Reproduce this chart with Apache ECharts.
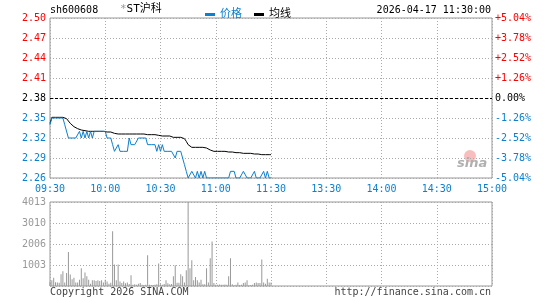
<!DOCTYPE html>
<html>
<head>
<meta charset="utf-8">
<script src="https://cdn.jsdelivr.net/npm/echarts@6/dist/echarts.min.js"></script>
<style>
  html, body { margin: 0; padding: 0; background: #fff; }
  #chart { width: 545px; height: 300px; }
</style>
</head>
<body>
<div id="chart"></div>
<script>
// 基本信息
var code = 'sh600608';
var stockName = 'ST沪科';
var timeStamp = '2026-04-17 11:30:00';
var prevClose = 2.38;

// 横轴刻度
var times = ['09:30', '10:00', '10:30', '11:00', '11:30', '13:30', '14:00', '14:30', '15:00'];
// 成交量纵轴刻度
var volTicks = ['', '1003', '2006', '3010', '4013'];

// 每分钟价格 (09:30 - 11:30)
var price = [
  2.34, 2.35, 2.35, 2.35, 2.35, 2.35, 2.35, 2.35, 2.34, 2.34,
  2.32, 2.32, 2.32, 2.32, 2.32, 2.32, 2.33, 2.32, 2.33, 2.32,
  2.33, 2.32, 2.33, 2.32, 2.33, 2.33, 2.33, 2.33, 2.33, 2.33,
  2.33, 2.32, 2.32, 2.32, 2.31, 2.30, 2.30, 2.31, 2.30, 2.30,
  2.30, 2.30, 2.30, 2.32, 2.31, 2.31, 2.31, 2.31, 2.32, 2.32,
  2.32, 2.32, 2.32, 2.31, 2.31, 2.31, 2.31, 2.31, 2.30, 2.31,
  2.30, 2.31, 2.30, 2.30, 2.30, 2.30, 2.30, 2.30, 2.29, 2.30,
  2.30, 2.30, 2.30, 2.28, 2.27, 2.26, 2.26, 2.27, 2.27, 2.26,
  2.27, 2.26, 2.27, 2.26, 2.27, 2.26, 2.26, 2.26, 2.26, 2.26,
  2.26, 2.26, 2.26, 2.26, 2.26, 2.26, 2.26, 2.26, 2.27, 2.27,
  2.27, 2.26, 2.26, 2.26, 2.26, 2.27, 2.27, 2.26, 2.26, 2.26,
  2.26, 2.27, 2.26, 2.26, 2.26, 2.26, 2.27, 2.26, 2.27, 2.26,
  2.26
];

// 均价
var avgPrice = [
  2.342, 2.351, 2.351, 2.351, 2.351, 2.351, 2.351, 2.351, 2.351, 2.349,
  2.346, 2.342, 2.339, 2.337, 2.335, 2.334, 2.333, 2.332, 2.331, 2.331,
  2.330, 2.330, 2.330, 2.330, 2.330, 2.330, 2.330, 2.330, 2.330, 2.330,
  2.329, 2.329, 2.329, 2.329, 2.328, 2.327, 2.326, 2.326, 2.326, 2.326,
  2.326, 2.326, 2.326, 2.326, 2.326, 2.326, 2.326, 2.326, 2.326, 2.326,
  2.326, 2.326, 2.326, 2.325, 2.325, 2.325, 2.325, 2.325, 2.324, 2.324,
  2.324, 2.323, 2.323, 2.323, 2.323, 2.323, 2.323, 2.321, 2.321, 2.321,
  2.321, 2.321, 2.321, 2.319, 2.315, 2.310, 2.308, 2.306, 2.306, 2.306,
  2.306, 2.306, 2.306, 2.306, 2.306, 2.305, 2.304, 2.302, 2.300, 2.300,
  2.300, 2.300, 2.300, 2.300, 2.300, 2.300, 2.299, 2.299, 2.299, 2.299,
  2.298, 2.298, 2.298, 2.298, 2.298, 2.297, 2.297, 2.297, 2.297, 2.297,
  2.297, 2.296, 2.296, 2.296, 2.296, 2.295, 2.295, 2.295, 2.295, 2.295,
  2.295
];

// 成交量
var volume = [
  200, 270, 400, 180, 170, 150, 560, 700, 170, 620,
  1630, 550, 320, 400, 170, 170, 300, 850, 370, 650,
  460, 300, 110, 270, 270, 240, 270, 240, 270, 170,
  300, 210, 110, 150, 2620, 1030, 270, 1030, 210, 140,
  210, 130, 170, 100, 510, 60, 80, 60, 110, 140,
  60, 50, 60, 1465, 60, 50, 50, 60, 80, 1080,
  80, 60, 100, 270, 130, 80, 100, 460, 990, 150,
  150, 560, 460, 170, 750, 4013, 850, 1230, 270, 430,
  270, 170, 300, 80, 80, 850, 170, 1320, 2130, 140,
  60, 60, 70, 60, 60, 70, 60, 460, 1320, 80,
  40, 60, 170, 50, 60, 140, 170, 270, 40, 50,
  60, 140, 170, 140, 140, 1270, 170, 110, 350, 170,
  170
];

var RED = '#ff0000';
var BLUE = '#0b7fd0';
var GRAY = '#999999';
var MONO = '"DejaVu Sans Mono", "Noto Sans CJK SC", monospace';

var myChart = echarts.init(document.getElementById('chart'));

function priceColor(v) {
  v = parseFloat(v);
  if (Math.abs(v - prevClose) < 1e-6) return '#000';
  return v > prevClose ? RED : BLUE;
}

var dotted = { color: '#aaa', type: [1, 2], width: 1 };

var option = {
  animation: false,
  textStyle: { fontFamily: MONO },
  legend: {
    left: 200,
    top: 4,
    icon: 'rect',
    itemWidth: 10,
    itemHeight: 3,
    itemGap: 12,
    textStyle: { fontSize: 11, fontFamily: MONO },
    data: [
      { name: '价格', textStyle: { color: BLUE } },
      { name: '均线', textStyle: { color: '#000' } }
    ]
  },
  graphic: [
    { type: 'text', left: 50, top: 5, style: { text: code, font: '10px ' + MONO, fill: '#000' } },
    {
      type: 'text', left: 120, top: 4,
      style: {
        text: '{a|*}{b|' + stockName + '}',
        font: '11px ' + MONO,
        rich: {
          a: { fill: GRAY, font: '11px ' + MONO },
          b: { fill: '#000', font: '11px ' + MONO }
        }
      }
    },
    { type: 'text', right: 54, top: 5, style: { text: timeStamp, font: '10px ' + MONO, fill: '#000' } },
    { type: 'text', left: 50, top: 287, style: { text: 'Copyright 2026 SINA.COM', font: '10px ' + MONO, fill: '#444' } },
    { type: 'text', right: 54, top: 287, style: { text: 'http://finance.sina.com.cn', font: '10px ' + MONO, fill: '#444' } },
    // sina 水印
    { type: 'circle', shape: { cx: 470, cy: 156, r: 6 }, style: { fill: 'rgba(240,110,110,0.45)' }, z: 0 },
    { type: 'text', left: 457, top: 157, style: { text: 'sina', font: 'italic bold 13px "DejaVu Sans"', fill: '#b0b0b0' }, z: 0 }
  ],
  grid: [
    { left: 50, right: 53, top: 18, height: 160, show: true, borderColor: GRAY, borderWidth: 1 },
    { left: 50, right: 53, top: 202, height: 84, show: true, borderColor: GRAY, borderWidth: 1 }
  ],
  xAxis: [
    {
      type: 'value', gridIndex: 0, min: 0, max: 240, interval: 30,
      axisLine: { show: false }, axisTick: { show: false },
      axisLabel: {
        color: BLUE, fontSize: 10, fontFamily: MONO, margin: 6,
        formatter: function (v) { return times[Math.round(v / 30)]; }
      },
      splitLine: { show: true, lineStyle: dotted }
    },
    {
      type: 'value', gridIndex: 1, min: 0, max: 240, interval: 30,
      axisLine: { show: false }, axisTick: { show: false },
      axisLabel: { show: false },
      splitLine: { show: true, lineStyle: dotted }
    }
  ],
  yAxis: [
    {
      type: 'value', gridIndex: 0, min: 2.26, max: 2.50, interval: 0.03,
      axisLine: { show: false }, axisTick: { show: false },
      axisLabel: {
        fontSize: 10, fontFamily: MONO, margin: 4,
        color: priceColor,
        formatter: function (v) { return v.toFixed(2); }
      },
      splitLine: { show: true, lineStyle: dotted }
    },
    {
      type: 'value', gridIndex: 0, position: 'right', min: 2.26, max: 2.50, interval: 0.03,
      axisLine: { show: false }, axisTick: { show: false },
      axisLabel: {
        fontSize: 10, fontFamily: MONO, margin: 3,
        color: priceColor,
        formatter: function (v) {
          var p = (v - prevClose) / prevClose * 100;
          if (Math.abs(p) < 0.001) return '0.00%';
          return (p > 0 ? '+' : '') + p.toFixed(2) + '%';
        }
      },
      splitLine: { show: false }
    },
    {
      type: 'value', gridIndex: 1, min: 0, max: 4013, interval: 4013 / 4,
      axisLine: { show: false }, axisTick: { show: false },
      axisLabel: {
        color: GRAY, fontSize: 10, fontFamily: MONO, margin: 4,
        formatter: function (v) { return volTicks[Math.round(v / (4013 / 4))]; }
      },
      splitLine: { show: true, lineStyle: dotted }
    }
  ],
  series: [
    {
      name: '价格',
      type: 'line',
      xAxisIndex: 0, yAxisIndex: 0,
      symbol: 'none',
      color: BLUE,
      lineStyle: { color: BLUE, width: 1 },
      data: price.map(function (v, i) { return [i, v]; }),
      markLine: {
        silent: true,
        symbol: ['none', 'none'],
        label: { show: false },
        lineStyle: { color: '#000', type: [3, 2], width: 1 },
        data: [{ yAxis: prevClose }]
      },
      z: 3
    },
    {
      name: '均线',
      type: 'line',
      xAxisIndex: 0, yAxisIndex: 0,
      symbol: 'none',
      color: '#000',
      lineStyle: { color: '#000', width: 1 },
      data: avgPrice.map(function (v, i) { return [i, v]; }),
      z: 2
    },
    {
      name: '成交量',
      type: 'bar',
      xAxisIndex: 1, yAxisIndex: 2,
      barWidth: 1,
      itemStyle: { color: GRAY },
      data: volume.map(function (v, i) { return [i, v]; })
    }
  ]
};

myChart.setOption(option);
</script>
</body>
</html>
